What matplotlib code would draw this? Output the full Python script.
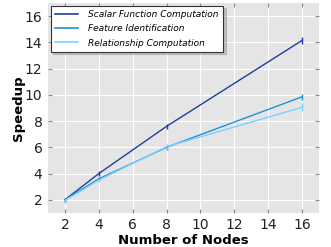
import numpy as np
import matplotlib
matplotlib.use('Agg')
import matplotlib.pyplot as plt
from matplotlib.lines import Line2D

# Datos
nodos = [2, 4, 8, 16]
scalar = [2.0, 4.0, 7.6, 14.15]
feature = [2.0, 3.6, 6.0, 9.85]
relacion = [1.95, 3.5, 6.05, 9.05]
err_scalar = [0.15, 0.2, 0.2, 0.25]
err_feature = [0.15, 0.15, 0.2, 0.25]
err_relacion = [0.2, 0.15, 0.2, 0.3]
etiquetas = ['Scalar Function Computation', 'Feature Identification', 'Relationship Computation']
colores = ['#1f3d9e', '#1d95cf', '#7dcfff']

fig = plt.figure(figsize=(3.31, 2.47), dpi=100)
ax = fig.add_axes([0.145, 0.138, 0.819, 0.850])
ax.set_facecolor('#e5e5e5')
for s in ax.spines.values():
    s.set_visible(False)
ax.grid(True, color='white', linewidth=0.8)
ax.set_axisbelow(True)

for y, e, c in zip([scalar, feature, relacion], [err_scalar, err_feature, err_relacion], colores):
    ax.errorbar(nodos, y, yerr=e, color=c, linewidth=1.0, elinewidth=1.0, capsize=0)

ax.set_xlim(1, 17)
ax.set_ylim(1, 17)
ax.set_xticks(range(2, 17, 2))
ax.set_yticks(range(2, 17, 2))
ax.tick_params(axis='both', direction='in', length=3, color='#888888', labelsize=10,
               labelcolor='#222222', top=True, right=True, pad=4)
ax.set_xlabel('Number of Nodes', fontsize=9.5, fontweight='bold', labelpad=1)
ax.set_ylabel('Speedup', fontsize=9.5, fontweight='bold', labelpad=0)

manejadores = [Line2D([], [], color=c, linewidth=1.2) for c in colores]
leg = ax.legend(manejadores, etiquetas, loc='upper left', prop={'style': 'italic', 'size': 6.5},
                handlelength=2.6, handletextpad=1.1, fancybox=False, shadow={'color': '#999999'},
                framealpha=1, borderaxespad=0.3, labelspacing=0.6, borderpad=0.45)
leg.get_frame().set_edgecolor('#333333')
leg.get_frame().set_linewidth(0.8)

plt.savefig('out.png', dpi=100)
